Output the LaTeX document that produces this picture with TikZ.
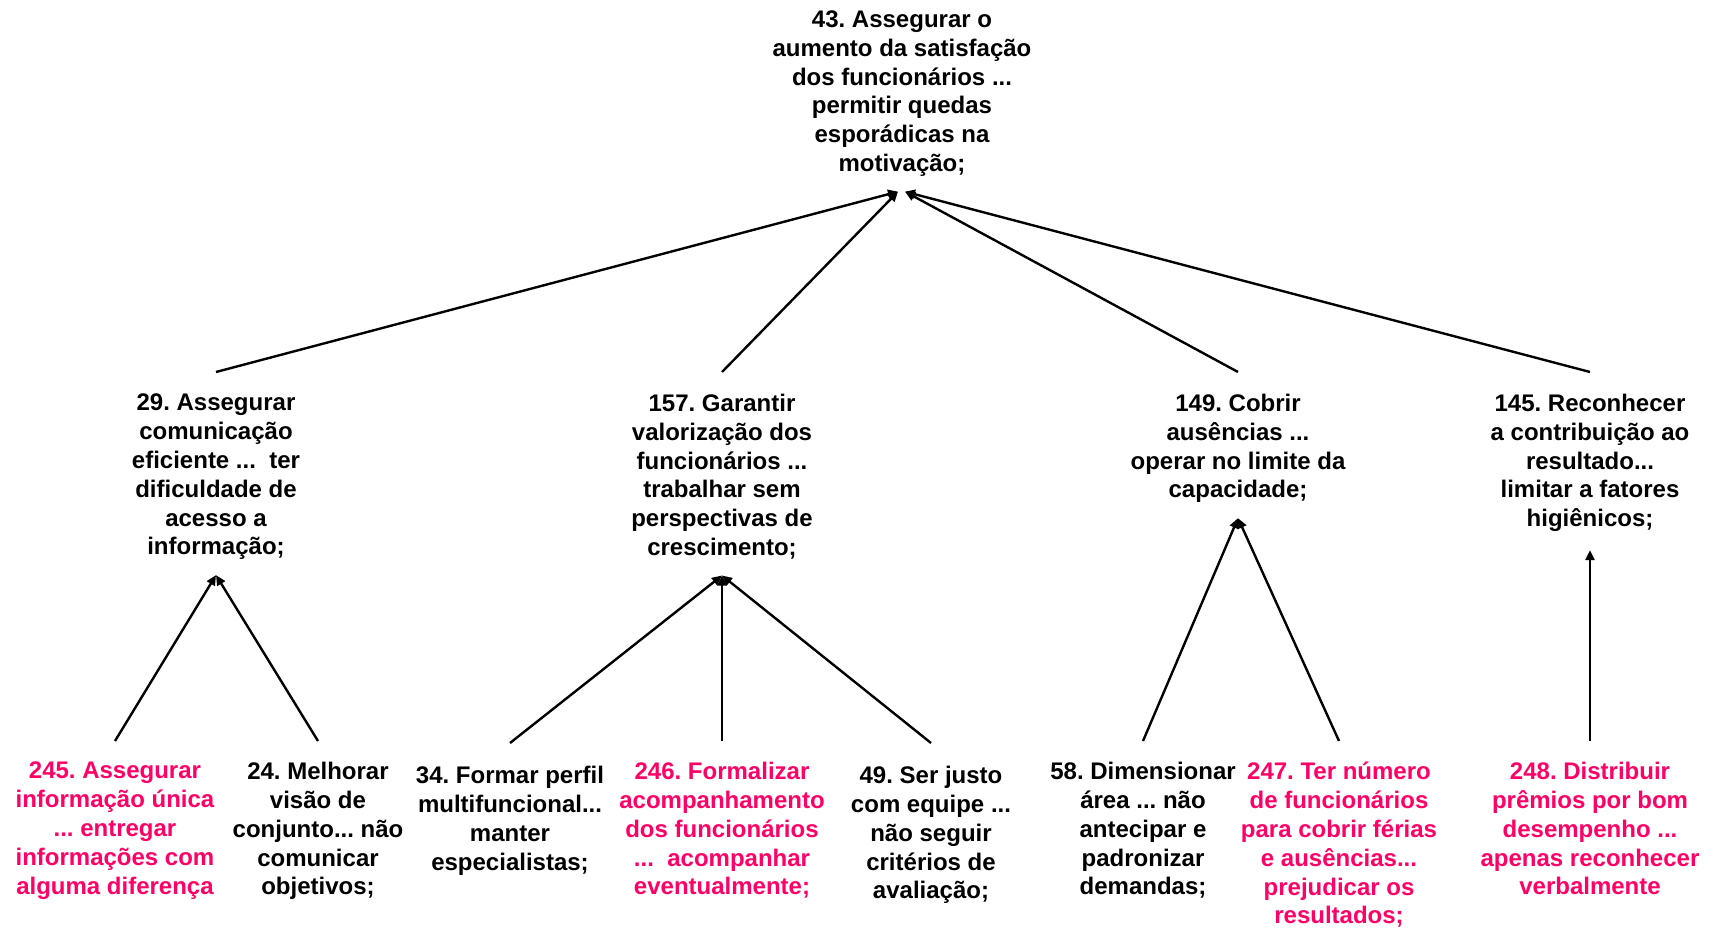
\documentclass[tikz,border=0pt]{standalone}
\usepackage{fontspec}
\setmainfont{Liberation Sans}
\usetikzlibrary{arrows.meta,calc}
\definecolor{pinkred}{HTML}{FF0066}
\frenchspacing
\begin{document}
\begin{tikzpicture}[x=1pt,y=-1pt,
  lbl/.style={align=center, inner sep=0pt, anchor=north, font=\bfseries\fontsize{24}{28.8}\selectfont},
  pk/.style={lbl, text=pinkred},
  arr/.style={line width=2.4pt, -{Triangle[length=10pt,width=9pt]}}]
\useasboundingbox[fill=white] (0,0) rectangle (1713,931);

\node[lbl] (n43) at (902,10.5) {43. Assegurar o\\aumento da satisfação\\dos funcionários ...\\permitir quedas\\esporádicas na\\motivação;};

\node[lbl] (n29) at (216,394) {29. Assegurar\\comunicação\\eficiente ...~ ter\\dificuldade de\\acesso a\\informação;};
\node[lbl] (n157) at (722,394) {157. Garantir\\valorização dos\\funcionários ...\\trabalhar sem\\perspectivas de\\crescimento;};
\node[lbl] (n149) at (1238,394) {149. Cobrir\\ausências ...\\operar no limite da\\capacidade;};
\node[lbl] (n145) at (1590,394) {145. Reconhecer\\a contribuição ao\\resultado...\\limitar a fatores\\higiênicos;};

\node[pk] (n245) at (115,762) {245. Assegurar\\informação única\\... entregar\\informações com\\alguma diferença};
\node[lbl] (n24) at (318,762) {24. Melhorar\\visão de\\conjunto... não\\comunicar\\objetivos;};
\node[lbl] (n34) at (510,766) {34. Formar perfil\\multifuncional...\\manter\\especialistas;};
\node[pk] (n246) at (722,762) {246. Formalizar\\acompanhamento\\dos funcionários\\...~ acompanhar\\eventualmente;};
\node[lbl] (n49) at (931,766) {49. Ser justo\\com equipe ...\\não seguir\\critérios de\\avaliação;};
\node[lbl] (n58) at (1143,762) {58. Dimensionar\\área ... não\\antecipar e\\padronizar\\demandas;};
\node[pk] (n247) at (1339,762) {247. Ter número\\de funcionários\\para cobrir férias\\e ausências...\\prejudicar os\\resultados;};
\node[pk] (n248) at (1590,762) {248. Distribuir\\prêmios por bom\\desempenho ...\\apenas reconhecer\\verbalmente};

% middle to top
\draw[arr] ([yshift=22pt]n29.north) -- ([xshift=-4pt,yshift=-15pt]n43.south);
\draw[arr] ([yshift=22pt]n157.north) -- ([xshift=-4pt,yshift=-15pt]n43.south);
\draw[arr] ([yshift=22pt]n149.north) -- ([xshift=3pt,yshift=-15pt]n43.south);
\draw[arr] ([yshift=22pt]n145.north) -- ([xshift=3pt,yshift=-15pt]n43.south);

% bottom to middle
\draw[arr] ([yshift=21pt]n245.north) -- ([yshift=-15pt]n29.south);
\draw[arr] ([yshift=21pt]n24.north) -- ([yshift=-15pt]n29.south);
\draw[arr] ([yshift=23pt]n34.north) -- ([yshift=-16pt]n157.south);
\draw[arr] ([yshift=21pt]n246.north) -- ([yshift=-16pt]n157.south);
\draw[arr] ([yshift=23pt]n49.north) -- ([yshift=-16pt]n157.south);
\draw[arr] ([yshift=21pt]n58.north) -- ([yshift=-15pt]n149.south);
\draw[arr] ([yshift=21pt]n247.north) -- ([yshift=-15pt]n149.south);
\draw[arr] ([yshift=21pt]n248.north) -- ([yshift=-18pt]n145.south);
\end{tikzpicture}
\end{document}
